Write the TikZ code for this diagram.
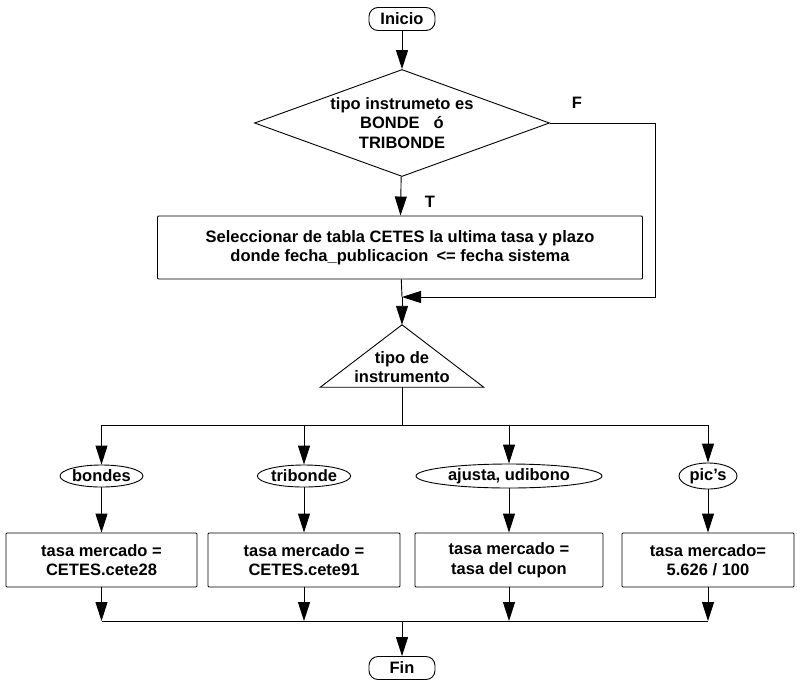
\documentclass[tikz,border=0pt]{standalone}
\usepackage{fontspec}
\setmainfont{Liberation Sans}
\usetikzlibrary{shapes.geometric,arrows.meta}
\begin{document}
\begin{tikzpicture}[x=1pt,y=-1pt,
  every node/.style={font=\fontsize{16.5}{19.5}\selectfont\bfseries, align=center, inner sep=0pt},
  line/.style={draw=black, line width=0.9pt},
  arr/.style={line, -{Triangle[length=19pt,width=12pt]}},
  term/.style={draw, line width=0.9pt, rounded corners=9pt, fill=white, minimum height=23pt, minimum width=66pt},
  proc/.style={draw, line width=0.9pt, fill=white, rounded corners=1pt, minimum height=54pt},
  choice/.style={draw, ellipse, line width=0.9pt, fill=white, inner sep=0pt},
  test/.style={draw, diamond, aspect=2.76, line width=0.9pt, fill=white, minimum width=295pt, minimum height=107pt},
]
\useasboundingbox (0,0) rectangle (797,683);

% start and first decision
\node[term] (ini) at (402,19) {Inicio};
\node[test] (dec) at (402,123) {tipo instrumeto es\\BONDE\hspace{14pt}ó\\TRIBONDE};
\node (fl) at (577,103) {F};
\node (tl) at (430,202) {T};

% lookup of the CETES rate
\node[proc, minimum width=485pt, minimum height=63pt] (sel) at (400,247.5)
  {Seleccionar de tabla CETES la ultima tasa y plazo\\donde fecha\_publicacion\hspace{8pt}<= fecha sistema};

\coordinate (merge) at (402,297);
\coordinate (fcorner) at (655,297);

% second decision (triangle)
\node[minimum width=163pt, minimum height=62pt] (tipo) at (402,356) {};
\draw[line, fill=white] (tipo.south west) -- (tipo.north) -- (tipo.south east) -- cycle;
\node (tipotxt) at (402,367) {tipo de\\instrumento};

\coordinate (split) at (402,425);

% cases
\node[choice, minimum width=82pt, minimum height=22pt] (c1) at (101.5,476) {bondes};
\node[choice, minimum width=86pt, minimum height=22pt] (c2) at (304,476) {tribonde};
\node[choice, minimum width=186pt, minimum height=24pt] (c3) at (509,476) {ajusta, udibono};
\node[choice, minimum width=58pt, minimum height=26pt] (c4) at (708,476) {pic's};

\node[proc, minimum width=191pt] (r1) at (101.5,560) {tasa mercado =\\CETES.cete28};
\node[proc, minimum width=192pt] (r2) at (304,560) {tasa mercado =\\CETES.cete91};
\node[proc, minimum width=188pt] (r3) at (509,560) {tasa mercado =\\tasa del cupon};
\node[proc, minimum width=172pt] (r4) at (708,560) {tasa mercado=\\5.626 / 100};

\coordinate (join) at (402,621);
\node[term] (fin) at (402,668) {Fin};

% connectors
\draw[arr] (ini) -- (dec);
\draw[arr] (dec) -- (sel);
\draw[arr] (dec.east) -| (fcorner) -- (merge);
\draw[line] (sel) -- (merge);
\draw[arr] (merge) -- (tipo.north);
\draw[line] (tipo.south) -- (split);
\foreach \i in {1,2,3,4} {
  \draw[arr] (split) -| (c\i.north);
  \draw[arr] (c\i) -- (r\i);
  \draw[arr] (r\i.south) -- (r\i.south |- join);
}
\draw[line] (r1.south |- join) -- (r4.south |- join);
\draw[arr] (join) -- (fin);
\end{tikzpicture}
\end{document}
